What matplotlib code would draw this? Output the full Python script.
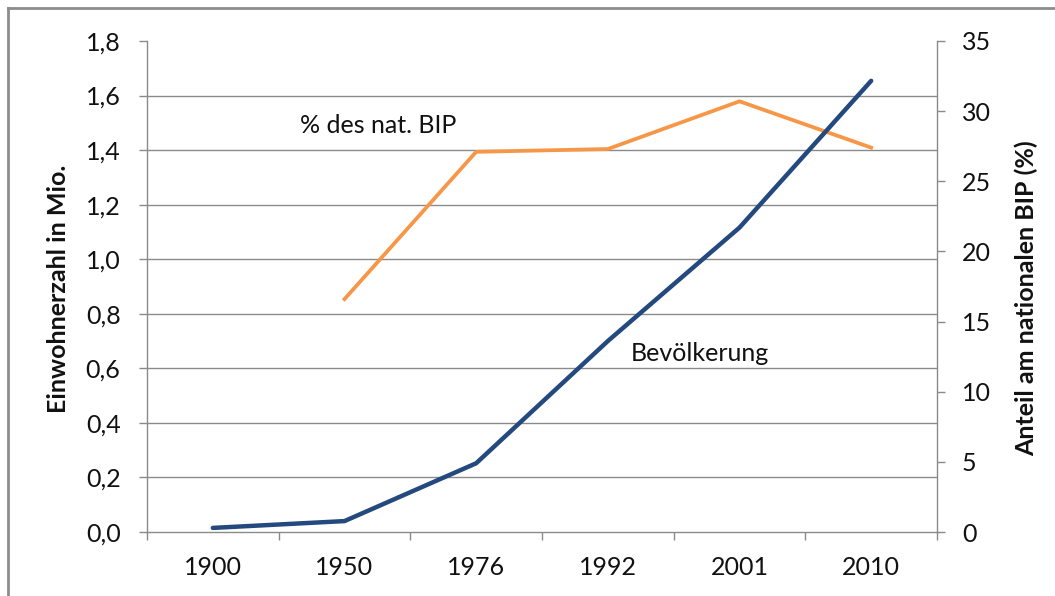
import numpy as np
import matplotlib
matplotlib.use("Agg")
import matplotlib.pyplot as plt
from matplotlib.ticker import FixedLocator
from matplotlib.lines import Line2D

# Data
years = ["1900", "1950", "1976", "1992", "2001", "2010"]
population_mio = [0.015, 0.040, 0.252, 0.700, 1.116, 1.654]
bip_share = [np.nan, 16.6, 27.1, 27.3, 30.7, 27.4]

left_ticks = [0.0, 0.2, 0.4, 0.6, 0.8, 1.0, 1.2, 1.4, 1.6, 1.8]
left_tick_labels = ["0,0", "0,2", "0,4", "0,6", "0,8", "1,0", "1,2", "1,4", "1,6", "1,8"]
right_ticks = [0, 5, 10, 15, 20, 25, 30, 35]

plt.rcParams["font.family"] = ["Lato", "DejaVu Sans"]

BLUE = "#23497e"
ORANGE = "#f79646"
GRID = "#8a8a8a"
TEXT = "#111111"
FS = 18

fig = plt.figure(figsize=(10.55, 5.96), dpi=100)
fig.patch.set_facecolor("white")

ax = fig.add_axes([147 / 1055, 1 - 532 / 596, (937 - 147) / 1055, (532 - 41) / 596])
ax2 = ax.twinx()

x = np.arange(len(years))

# Right axis (drawn underneath): percentage of national GDP + horizontal grid
ax2.plot(x, bip_share, color=ORANGE, lw=2.7, solid_joinstyle="miter", zorder=3)
ax2.set_ylim(0, 35)
ax2.yaxis.set_major_locator(FixedLocator(right_ticks))
ax2.yaxis.set_minor_locator(FixedLocator([v * 35 / 1.8 for v in left_ticks]))
ax2.grid(True, which="minor", axis="y", color=GRID, lw=1.0, zorder=0)
ax2.tick_params(axis="y", which="minor", length=0)
ax2.tick_params(axis="y", which="major", length=6, width=1, color=GRID,
                labelsize=FS, labelcolor=TEXT, pad=12)
ax2.set_axisbelow(True)

# Left axis (drawn on top): population
ax.set_zorder(ax2.get_zorder() + 1)
ax.patch.set_visible(False)
ax.plot(x, population_mio, color=BLUE, lw=3.2, solid_joinstyle="round",
        solid_capstyle="round", zorder=4)
ax.set_ylim(0, 1.8)
ax.set_xlim(-0.5, len(years) - 0.5)
ax.yaxis.set_major_locator(FixedLocator(left_ticks))
ax.set_yticklabels(left_tick_labels)
ax.tick_params(axis="y", length=6, width=1, color=GRID, labelsize=FS,
               labelcolor=TEXT, pad=13)

# Category axis: boundary ticks, labels centred between them
ax.set_xticks(np.arange(-0.5, len(years), 1.0))
ax.set_xticklabels([])
ax.set_xticks(x, minor=True)
ax.set_xticklabels(years, minor=True)
ax.tick_params(axis="x", which="major", length=6, width=1, color=GRID)
ax.tick_params(axis="x", which="minor", length=0, labelsize=FS,
               labelcolor=TEXT, pad=17)

for a in (ax, ax2):
    a.spines["top"].set_visible(False)
    for s in ("left", "right", "bottom"):
        a.spines[s].set_color(GRID)
        a.spines[s].set_linewidth(1.0)
ax.spines["right"].set_visible(False)
ax2.spines["left"].set_visible(False)
ax2.spines["bottom"].set_visible(False)

# Series labels inside the plot
ax.text(0.663, 1.49, "% des nat. BIP", fontsize=FS, color=TEXT,
        ha="left", va="center")
ax.text(3.173, 0.654, "Bevölkerung", fontsize=FS, color=TEXT,
        ha="left", va="center")

# Axis titles
fig.text(58 / 1055, 1 - 289 / 596, "Einwohnerzahl in Mio.", rotation=90,
         fontsize=FS, fontweight="bold", color=TEXT, ha="center", va="center")
fig.text(1026 / 1055, 1 - 298 / 596, "Anteil am nationalen BIP (%)", rotation=90,
         fontsize=FS, fontweight="bold", color=TEXT, ha="center", va="center")

# Chart frame (top and left edges)
frame_kw = dict(color="#8c8c8c", lw=2.0, transform=fig.transFigure)
fig.add_artist(Line2D([8 / 1055, 1.0], [1 - 8 / 596, 1 - 8 / 596], **frame_kw))
fig.add_artist(Line2D([8 / 1055, 8 / 1055], [0.0, 1 - 8 / 596], **frame_kw))

fig.savefig("out.png", dpi=100, facecolor="white")
